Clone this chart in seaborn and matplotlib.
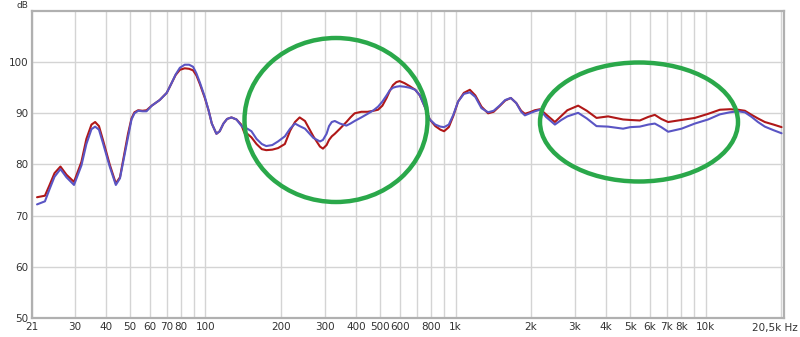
import numpy as np
import pandas as pd
import matplotlib
matplotlib.use("Agg")
import matplotlib.pyplot as plt
from matplotlib.patches import Ellipse
from matplotlib.ticker import FixedLocator, NullFormatter
import seaborn as sns

# ---- data ----
freq_hz = [21.2, 22.8, 23.8, 24.9, 26.3, 27.8, 29.8, 31.9, 33.4, 35.0, 36.2, 37.5, 38.9, 41.4,
           43.8, 45.5, 47.5, 49.0, 50.6, 52.0, 53.8, 56, 58.1, 61, 65.6, 70, 73, 76, 79, 82.6,
           86, 89.2, 92, 95, 99.4, 103, 106, 110.6, 114, 118, 122, 127, 133, 139, 143, 147,
           152.7, 160, 168, 175, 185, 195, 207.7, 218, 228, 238, 250, 270, 287, 295, 305, 312,
           320, 329, 345, 366, 380, 395, 420, 445, 470, 490, 510, 530, 546, 562, 580, 598, 625,
           656, 690, 720, 750, 789, 830, 870, 900, 940, 980, 1024, 1080, 1141, 1200, 1270,
           1350, 1420, 1500, 1580, 1664, 1750, 1830, 1894, 1980, 2076, 2178, 2300, 2497, 2650,
           2800, 3093, 3350, 3664, 4076, 4678, 5000, 5457, 5900, 6265, 6650, 7086, 8017, 9057,
           10240, 11410, 12500, 13500, 14360, 15280, 16200, 17260, 18700, 20140]
red_db = [73.6, 73.9, 76.0, 78.3, 79.6, 78.0, 76.6, 80.5, 85.0, 87.8, 88.3, 87.5, 84.8, 80.0,
          76.3, 77.5, 82.5, 86.0, 89.0, 90.2, 90.6, 90.5, 90.6, 91.5, 92.6, 94.0, 95.8, 97.5, 98.5, 98.8,
          98.7, 98.4, 97.4, 95.7, 93.0, 90.5, 88.0, 86.0, 86.5, 88.0, 88.9, 89.2, 88.8, 87.8, 86.2, 86.0,
          85.3, 84.0, 83.0, 82.8, 82.9, 83.2, 84.0, 86.6, 88.3, 89.2, 88.5, 85.5, 83.5, 83.1, 83.8, 84.8,
          85.5, 86.0, 87.0, 88.3, 89.2, 90.0, 90.3, 90.3, 90.5, 90.7, 91.5, 93.0, 94.4, 95.5, 96.1, 96.3, 95.9,
          95.3, 94.6, 93.5, 91.5, 88.8, 87.5, 86.8, 86.5, 87.3, 89.5, 92.3, 94.0, 94.6, 93.5, 91.3,
          90.0, 90.3, 91.4, 92.5, 93.0, 92.0, 90.5, 89.9, 90.2, 90.6, 90.8, 89.8, 88.3, 89.5,
          90.6, 91.5, 90.5, 89.1, 89.4, 88.8, 88.7, 88.6, 89.3, 89.7, 88.9, 88.3, 88.7, 89.1,
          89.9, 90.7, 90.8, 90.7, 90.5, 89.7, 89.0, 88.3, 87.8, 87.3]
blue_db = [72.2, 72.8, 75.2, 77.6, 79.1, 77.5, 76.0, 79.8, 84.0, 86.9, 87.4, 86.8, 84.2, 79.6,
           76.0, 77.3, 82.0, 85.5, 88.8, 90.0, 90.5, 90.4, 90.4, 91.5, 92.6, 94.0, 95.8, 97.6, 98.9, 99.5,
           99.5, 99.1, 97.8, 96.0, 93.2, 90.5, 88.0, 86.0, 86.5, 88.0, 88.9, 89.2, 88.8, 87.6, 87.0, 87.0,
           86.5, 85.0, 84.0, 83.6, 83.8, 84.5, 85.5, 87.0, 88.0, 87.5, 87.0, 85.2, 84.5, 84.8, 86.0, 87.5,
           88.3, 88.5, 88.0, 87.6, 88.0, 88.5, 89.2, 89.9, 90.6, 91.3, 92.3, 93.5, 94.5, 95.0, 95.2, 95.3, 95.2,
           95.0, 94.6, 93.5, 91.5, 88.8, 87.8, 87.4, 87.3, 87.8, 89.7, 92.3, 93.8, 94.1, 93.2, 91.0,
           90.2, 90.5, 91.5, 92.6, 93.0, 92.0, 90.3, 89.6, 90.0, 90.4, 90.7, 89.3, 87.8, 88.7,
           89.4, 90.1, 89.0, 87.5, 87.4, 87.0, 87.3, 87.4, 87.8, 88.0, 87.3, 86.4, 87.0, 88.0,
           88.8, 89.8, 90.2, 90.4, 90.2, 89.3, 88.3, 87.4, 86.7, 86.1]

x_tick_pos = [20.3, 30, 40, 50, 60, 70, 80, 100, 200, 300, 400, 500, 600, 800, 1000,
              2000, 3000, 4000, 5000, 6000, 7000, 8000, 10000, 20500]
x_tick_labels = ["21", "30", "40", "50", "60", "70", "80", "100", "200", "300", "400", "500",
                 "600", "800", "1k", "2k", "3k", "4k", "5k", "6k", "7k", "8k", "10k", ""]
x_minor_pos = [90, 700, 900, 9000, 20000]
y_ticks = [50, 60, 70, 80, 90, 100]

df = pd.DataFrame({
    "freq": freq_hz * 2,
    "db": red_db + blue_db,
    "series": ["red"] * len(freq_hz) + ["blue"] * len(freq_hz),
})

sns.set_style("white")
plt.rcParams["font.family"] = ["DejaVu Sans"]

fig = plt.figure(figsize=(8, 3.37), dpi=100)
ax = fig.add_axes([0.0404, 0.0564, 0.939, 0.911])

sns.lineplot(data=df, x="freq", y="db", hue="series", sort=False,
             palette={"red": "#b01818", "blue": "#5a55c4"}, linewidth=1.5,
             legend=False, ax=ax, estimator=None)

ax.set_xscale("log")
ax.set_xlim(20.3, 20500)
ax.set_ylim(50, 110)
ax.xaxis.set_major_locator(FixedLocator(x_tick_pos))
ax.set_xticklabels(x_tick_labels)
ax.xaxis.set_minor_locator(FixedLocator(x_minor_pos))
ax.xaxis.set_minor_formatter(NullFormatter())
ax.set_yticks(y_ticks)
ax.set_yticklabels([str(v) for v in y_ticks])
ax.grid(True, which="both", color="#d4d4d4", linewidth=1.0)
ax.set_axisbelow(True)
ax.tick_params(axis="both", which="both", length=0, labelsize=7.5, colors="#333333", pad=3)
ax.set_xlabel("")
ax.set_ylabel("")
for s in ax.spines.values():
    s.set_color("#b0b0b0")
    s.set_linewidth(1.6)

fig.text(22 / 800, 1 - 6 / 337, "dB", fontsize=6.5, color="#333333", ha="center", va="center")
fig.text(798 / 800, 1 - 328 / 337, "20,5k Hz", fontsize=7.5, color="#333333",
         ha="right", va="center")

green = "#2aa84a"
fig.patches.append(Ellipse((336 / 800, 1 - 120 / 337), 183 / 800, 164 / 337,
                           transform=fig.transFigure, fill=False, edgecolor=green, linewidth=3.2))
fig.patches.append(Ellipse((639 / 800, 1 - 122 / 337), 198 / 800, 119 / 337,
                           transform=fig.transFigure, fill=False, edgecolor=green, linewidth=3.2))

fig.savefig("out.png", dpi=100, facecolor="white")
